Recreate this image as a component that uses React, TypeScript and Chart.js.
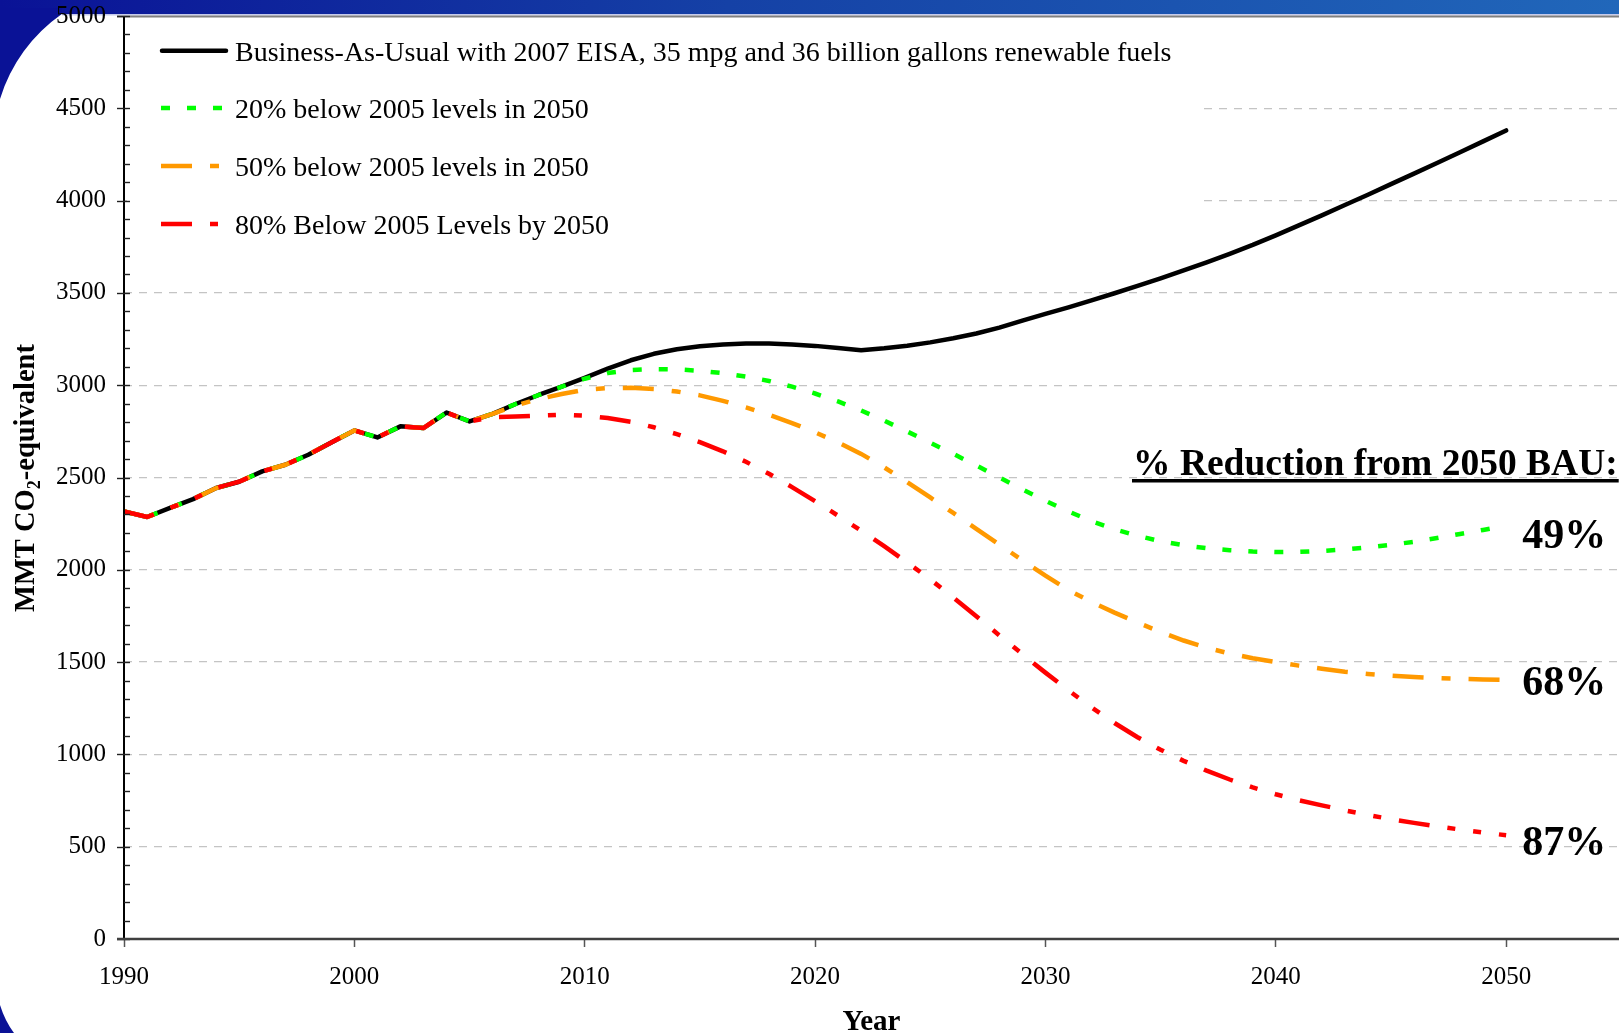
import React, { useEffect, useRef } from "react";
import { Chart, registerables } from "chart.js";

Chart.register(...registerables);

const YEARS = [
  1990, 1991, 1992, 1993, 1994, 1995, 1996, 1997, 1998, 1999,
  2000, 2001, 2002, 2003, 2004, 2005, 2006, 2007, 2008, 2009,
  2010, 2011, 2012, 2013, 2014, 2015, 2016, 2017, 2018, 2019,
  2020, 2021, 2022, 2023, 2024, 2025, 2026, 2027, 2028, 2029,
  2030, 2031, 2032, 2033, 2034, 2035, 2036, 2037, 2038, 2039,
  2040, 2041, 2042, 2043, 2044, 2045, 2046, 2047, 2048, 2049, 2050,
];

// 1990-2005, shared by every scenario
const HISTORY = [
  2316, 2286, 2335, 2383, 2443, 2477, 2533, 2569, 2623, 2690,
  2755, 2717, 2777, 2768, 2852, 2804,
];

// 2006-2050
const BAU_PROJ = [
  2845, 2898, 2947, 2992, 3040, 3090, 3135, 3170, 3195, 3211,
  3221, 3226, 3226, 3221, 3213, 3202, 3189, 3200, 3214, 3232,
  3254, 3280, 3312, 3350, 3386, 3422, 3460, 3498, 3538, 3579,
  3622, 3666, 3712, 3760, 3812, 3866, 3920, 3976, 4032, 4089,
  4146, 4204, 4262, 4321, 4380,
];
const P20_PROJ = [
  2845, 2898, 2947, 2992, 3035, 3066, 3082, 3087, 3086, 3078,
  3065, 3047, 3023, 2992, 2955, 2912, 2863, 2808, 2749, 2688,
  2628, 2565, 2500, 2436, 2374, 2316, 2264, 2220, 2184, 2155,
  2133, 2117, 2106, 2099, 2096, 2097, 2102, 2110, 2121, 2135,
  2152, 2172, 2194, 2216, 2238,
];
const P50_PROJ = [
  2845, 2890, 2925, 2952, 2975, 2984, 2986, 2980, 2966, 2945,
  2915, 2880, 2840, 2795, 2745, 2690, 2628, 2555, 2475, 2392,
  2308, 2222, 2136, 2052, 1968, 1890, 1826, 1768, 1714, 1663,
  1617, 1578, 1546, 1521, 1500, 1481, 1464, 1448, 1436, 1426,
  1419, 1413, 1409, 1406, 1404,
];
const P80_PROJ = [
  2827, 2830, 2835, 2840, 2835, 2822, 2802, 2772, 2735, 2692,
  2642, 2585, 2520, 2448, 2372, 2293, 2212, 2128, 2040, 1948,
  1850, 1748, 1645, 1543, 1443, 1347, 1255, 1170, 1093, 1025,
  965, 912, 864, 821, 784, 752, 724, 697, 672, 649,
  629, 610, 593, 577, 562,
];

const SERIES_LABELS = [
  "Business-As-Usual with 2007 EISA, 35 mpg and 36 billion gallons renewable fuels",
  "20% below 2005 levels in 2050",
  "50% below 2005 levels in 2050",
  "80% Below 2005 Levels by 2050",
];
const REDUCTION_TITLE = "% Reduction from 2050 BAU:";
const REDUCTION_LABELS = ["49%", "68%", "87%"];
const X_TITLE = "Year";
const Y_TITLE_PARTS = ["MMT CO", "2", "-equivalent"];

const SERIF = "'Liberation Serif', 'Times New Roman', serif";

const toPoints = (proj: number[]) =>
  [...HISTORY, ...proj].map((v, i) => ({ x: YEARS[i], y: v }));

const decorPlugin = {
  id: "decor",
  beforeDraw(chart: any) {
    const { ctx, width, height } = chart;
    ctx.save();
    ctx.fillStyle = "#ffffff";
    ctx.fillRect(0, 0, width, height);
    const g = ctx.createLinearGradient(0, 0, width, 0);
    g.addColorStop(0, "#0a1296");
    g.addColorStop(0.45, "#1541a6");
    g.addColorStop(1, "#2167ba");
    ctx.fillStyle = g;
    ctx.fillRect(0, 0, width, 14);
    ctx.fillStyle = "#c6cbec";
    ctx.fillRect(62, 14, width - 62, 1.5);
    // top-left corner shape
    ctx.fillStyle = "#0a1296";
    const cx = 154, cy = 146, r = 161;
    const a1 = Math.atan2(14 - cy, 61.8 - cx);
    const a2 = Math.atan2(99 - cy, 0 - cx);
    ctx.beginPath();
    ctx.moveTo(0, 8);
    ctx.lineTo(61.8, 8);
    ctx.lineTo(61.8, 14);
    ctx.arc(cx, cy, r, a1, a2, true);
    ctx.lineTo(0, 8);
    ctx.closePath();
    ctx.fill();
    // bottom-left shape
    ctx.beginPath();
    ctx.moveTo(0, 1005);
    ctx.quadraticCurveTo(5, 1021, 14, 1033);
    ctx.lineTo(0, 1033);
    ctx.closePath();
    ctx.fill();
    ctx.restore();
  },
  beforeDatasetsDraw(chart: any) {
    const { ctx } = chart;
    ctx.save();
    ctx.fillStyle = "#ffffff";
    ctx.fillRect(127, 18, 1203 - 127, 232);
    const rows = [50.7, 108, 166, 224];
    chart.data.datasets.forEach((ds: any, i: number) => {
      const y = rows[i];
      const dashed = ds.borderDash && ds.borderDash.length;
      ctx.save();
      ctx.strokeStyle = ds.borderColor;
      ctx.lineWidth = ds.borderWidth;
      ctx.lineCap = ds.borderCapStyle || "butt";
      ctx.setLineDash(ds.borderDash || []);
      ctx.beginPath();
      ctx.moveTo(dashed ? 161 : 162, y);
      ctx.lineTo(dashed ? 228 : 226, y);
      ctx.stroke();
      ctx.restore();
      ctx.fillStyle = "#000";
      ctx.font = `28px ${SERIF}`;
      ctx.textBaseline = "alphabetic";
      ctx.textAlign = "left";
      ctx.fillText(ds.label, 235, y + 10);
    });
    ctx.restore();
  },
  afterDraw(chart: any) {
    const { ctx, chartArea, scales, width } = chart;
    const ys = scales.y;
    const xs = scales.x;
    ctx.save();
    // top frame line
    ctx.strokeStyle = "#7f7f7f";
    ctx.lineWidth = 2;
    ctx.beginPath();
    ctx.moveTo(117, 16.5);
    ctx.lineTo(width, 16.5);
    ctx.stroke();
    // y axis line
    ctx.strokeStyle = "#000";
    ctx.lineWidth = 2;
    ctx.beginPath();
    ctx.moveTo(chartArea.left, chartArea.top);
    ctx.lineTo(chartArea.left, chartArea.bottom);
    ctx.stroke();
    // y ticks, major and minor
    ctx.lineWidth = 1.4;
    ctx.strokeStyle = "#222";
    for (let v = 0; v <= 5000; v += 100) {
      const py = Math.round(ys.getPixelForValue(v)) + 0.5;
      ctx.beginPath();
      ctx.moveTo(v % 500 === 0 ? chartArea.left - 7 : chartArea.left, py);
      ctx.lineTo(chartArea.left + 6, py);
      ctx.stroke();
    }
    // x axis line
    ctx.strokeStyle = "#404040";
    ctx.lineWidth = 2.5;
    ctx.beginPath();
    ctx.moveTo(chartArea.left - 7, chartArea.bottom);
    ctx.lineTo(width, chartArea.bottom);
    ctx.stroke();
    // x title
    ctx.fillStyle = "#000";
    ctx.font = `bold 29px ${SERIF}`;
    ctx.textAlign = "center";
    ctx.textBaseline = "alphabetic";
    ctx.fillText(X_TITLE, (chartArea.left + chartArea.right) / 2, 1030);
    // y title with subscript
    ctx.save();
    ctx.translate(33.5, 478);
    ctx.rotate(-Math.PI / 2);
    const big = `bold 28.5px ${SERIF}`;
    const small = `bold 18px ${SERIF}`;
    ctx.font = big;
    const w0 = ctx.measureText(Y_TITLE_PARTS[0]).width;
    const w2 = ctx.measureText(Y_TITLE_PARTS[2]).width;
    ctx.font = small;
    const w1 = ctx.measureText(Y_TITLE_PARTS[1]).width;
    let tx = -(w0 + w1 + w2) / 2;
    ctx.textAlign = "left";
    ctx.font = big;
    ctx.fillText(Y_TITLE_PARTS[0], tx, 0);
    tx += w0;
    ctx.font = small;
    ctx.fillText(Y_TITLE_PARTS[1], tx, 6);
    tx += w1;
    ctx.font = big;
    ctx.fillText(Y_TITLE_PARTS[2], tx, 0);
    ctx.restore();
    // reduction annotations
    ctx.font = `bold 37.5px ${SERIF}`;
    ctx.textAlign = "left";
    ctx.fillText(REDUCTION_TITLE, 1133, 475);
    const tw = ctx.measureText(REDUCTION_TITLE).width;
    ctx.fillRect(1132, 479, tw + 2, 3.5);
    ctx.font = `bold 42px ${SERIF}`;
    const lx = xs.getPixelForValue(2050) + 16;
    const baselines = [548, 695, 855];
    REDUCTION_LABELS.forEach((t, i) => ctx.fillText(t, lx, baselines[i]));
    ctx.restore();
  },
};

export default function App() {
  const ref = useRef<HTMLCanvasElement | null>(null);
  useEffect(() => {
    if (!ref.current) return;
    const chart = new Chart(ref.current, {
      type: "line",
      data: {
        datasets: [
          {
            label: SERIES_LABELS[0],
            data: toPoints(BAU_PROJ),
            borderColor: "#000000",
            borderWidth: 4.5,
            borderCapStyle: "round",
            borderJoinStyle: "round",
            pointRadius: 0,
            tension: 0,
            order: 3,
          },
          {
            label: SERIES_LABELS[1],
            data: toPoints(P20_PROJ),
            borderColor: "#00ff00",
            borderWidth: 4.5,
            borderDash: [9, 17],
            borderCapStyle: "butt",
            pointRadius: 0,
            tension: 0,
            order: 2,
          },
          {
            label: SERIES_LABELS[2],
            data: toPoints(P50_PROJ),
            borderColor: "#ff9900",
            borderWidth: 4.5,
            borderDash: [31, 18, 9, 18],
            borderCapStyle: "butt",
            pointRadius: 0,
            tension: 0,
            order: 1,
          },
          {
            label: SERIES_LABELS[3],
            data: toPoints(P80_PROJ),
            borderColor: "#ff0000",
            borderWidth: 4.5,
            borderDash: [31, 18, 8, 18, 8, 18],
            borderCapStyle: "butt",
            pointRadius: 0,
            tension: 0,
            order: 0,
          },
        ],
      },
      options: {
        animation: false,
        responsive: false,
        events: [],
        layout: { padding: { top: 16, left: 0, right: 0, bottom: 0 } },
        plugins: {
          legend: { display: false },
          tooltip: { enabled: false },
          title: { display: false },
        },
        scales: {
          x: {
            type: "linear",
            min: 1990,
            max: 2054.9,
            afterFit: (s: any) => {
              s.height = 94;
              s.paddingLeft = 0;
              s.paddingRight = 0;
            },
            border: { display: false },
            grid: {
              drawOnChartArea: false,
              drawTicks: true,
              tickLength: 8,
              tickColor: "#555555",
              tickWidth: 1.5,
            },
            ticks: {
              stepSize: 10,
              includeBounds: false,
              autoSkip: false,
              maxRotation: 0,
              padding: 15,
              color: "#000",
              font: { family: SERIF, size: 25 },
              callback: (v: any) => String(v),
            },
          },
          y: {
            type: "linear",
            min: 0,
            max: 5000,
            afterFit: (s: any) => {
              s.width = 124;
              s.paddingTop = 0;
              s.paddingBottom = 0;
            },
            border: { display: false, dash: [8, 7] },
            grid: {
              drawTicks: false,
              lineWidth: 1.2,
              color: (c: any) =>
                c.tick && (c.tick.value === 0 || c.tick.value === 5000)
                  ? "rgba(0,0,0,0)"
                  : "#c4c4c4",
            },
            ticks: {
              stepSize: 500,
              padding: 18,
              color: "#000",
              font: { family: SERIF, size: 25 },
              callback: (v: any) => String(v),
            },
          },
        },
      },
      plugins: [decorPlugin],
    } as any);
    return () => chart.destroy();
  }, []);
  return (
    <div style={{ position: "fixed", left: 0, top: 0, width: 1619, height: 1033 }}>
      <canvas ref={ref} width={1619} height={1033} style={{ display: "block" }} />
    </div>
  );
}
